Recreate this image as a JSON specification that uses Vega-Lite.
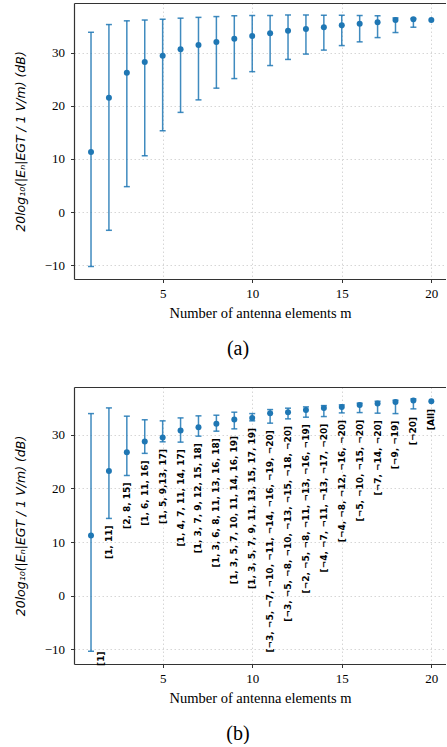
{
  "$schema": "https://vega.github.io/schema/vega-lite/v6.json",
  "padding": {"left": 14, "top": 3, "right": 0, "bottom": 0},
  "spacing": 28,
  "datasets": {
    "a": [
      {"m": 1, "v": 11.3, "lo": -10.2, "hi": 33.8},
      {"m": 2, "v": 21.5, "lo": -3.4, "hi": 35.25},
      {"m": 3, "v": 26.2, "lo": 4.8, "hi": 35.95},
      {"m": 4, "v": 28.2, "lo": 10.6, "hi": 36.1},
      {"m": 5, "v": 29.4, "lo": 15.3, "hi": 36.25},
      {"m": 6, "v": 30.6, "lo": 18.75, "hi": 36.45},
      {"m": 7, "v": 31.4, "lo": 21.1, "hi": 36.6},
      {"m": 8, "v": 31.95, "lo": 23.3, "hi": 36.75},
      {"m": 9, "v": 32.6, "lo": 25.1, "hi": 36.9},
      {"m": 10, "v": 33.1, "lo": 26.4, "hi": 36.95},
      {"m": 11, "v": 33.6, "lo": 27.55, "hi": 36.95},
      {"m": 12, "v": 34.1, "lo": 28.7, "hi": 37.05},
      {"m": 13, "v": 34.4, "lo": 29.7, "hi": 37.05},
      {"m": 14, "v": 34.75, "lo": 30.45, "hi": 37.0},
      {"m": 15, "v": 35.1, "lo": 31.3, "hi": 37.0},
      {"m": 16, "v": 35.4, "lo": 32.0, "hi": 36.95},
      {"m": 17, "v": 35.7, "lo": 32.8, "hi": 36.9},
      {"m": 18, "v": 36.1, "lo": 33.75, "hi": 36.5},
      {"m": 19, "v": 36.25, "lo": 34.75, "hi": 36.4},
      {"m": 20, "v": 36.1, "lo": null, "hi": null}
    ],
    "b": [
      {"m": 1, "v": 11.23, "lo": -10.33, "hi": 33.9, "label": "[1]", "lx": 1.56, "ly": -9.05},
      {"m": 2, "v": 23.2, "lo": 14.39, "hi": 34.96, "label": "[1, 11]", "lx": 2, "ly": 14.39},
      {"m": 3, "v": 26.73, "lo": 22.38, "hi": 33.42, "label": "[2, 8, 15]", "lx": 3, "ly": 22.38},
      {"m": 4, "v": 28.7, "lo": 26.5, "hi": 32.75, "label": "[1, 6, 11, 16]", "lx": 4, "ly": 26.5},
      {"m": 5, "v": 29.45, "lo": 28.65, "hi": 32.55, "label": "[1, 5, 9,13, 17]", "lx": 5, "ly": 28.65},
      {"m": 6, "v": 30.74, "lo": 28.59, "hi": 33.1, "label": "[1, 4, 7, 11, 14, 17]", "lx": 6, "ly": 28.59},
      {"m": 7, "v": 31.38, "lo": 29.7, "hi": 33.48, "label": "[1, 3, 7, 9, 12, 15, 18]", "lx": 7, "ly": 29.7},
      {"m": 8, "v": 31.99, "lo": 30.63, "hi": 33.6, "label": "[1, 3, 6, 8, 11, 13, 16, 18]", "lx": 8, "ly": 30.63},
      {"m": 9, "v": 32.79, "lo": 31.06, "hi": 34.16, "label": "[1, 3, 5, 7, 10, 11, 14, 16, 19]", "lx": 9, "ly": 31.06},
      {"m": 10, "v": 33.1, "lo": 32.55, "hi": 33.9, "label": "[1, 3, 5, 7, 9, 11, 13, 15, 17, 19]", "lx": 10, "ly": 32.55},
      {"m": 11, "v": 33.98, "lo": 32.12, "hi": 34.65, "label": "[¬3, ¬5, ¬7, ¬10, ¬11, ¬14, ¬16, ¬19, ¬20]", "lx": 11, "ly": 32.12},
      {"m": 12, "v": 34.16, "lo": 32.92, "hi": 34.91, "label": "[¬3, ¬5, ¬8, ¬10, ¬13, ¬15, ¬18, ¬20]", "lx": 12, "ly": 32.92},
      {"m": 13, "v": 34.59, "lo": 33.23, "hi": 35.15, "label": "[¬2, ¬5, ¬8, ¬11, ¬13, ¬16, ¬19]", "lx": 13, "ly": 33.23},
      {"m": 14, "v": 34.96, "lo": 33.35, "hi": 35.39, "label": "[¬4, ¬7, ¬11, ¬13, ¬17, ¬20]", "lx": 14, "ly": 33.35},
      {"m": 15, "v": 35.15, "lo": 34.03, "hi": 35.52, "label": "[¬4, ¬8, ¬12, ¬16, ¬20]", "lx": 15, "ly": 34.03},
      {"m": 16, "v": 35.52, "lo": 34.09, "hi": 35.84, "label": "[¬5, ¬10, ¬15, ¬20]", "lx": 16, "ly": 34.09},
      {"m": 17, "v": 35.76, "lo": 33.98, "hi": 36.2, "label": "[¬7, ¬14, ¬20]", "lx": 17, "ly": 33.98},
      {"m": 18, "v": 36.08, "lo": 33.9, "hi": 36.39, "label": "[¬9, ¬19]", "lx": 18, "ly": 33.9},
      {"m": 19, "v": 36.32, "lo": 34.78, "hi": 36.64, "label": "[¬20]", "lx": 19, "ly": 34.6},
      {"m": 20, "v": 36.2, "lo": null, "hi": null, "label": "[All]", "lx": 20, "ly": 36.1}
    ]
  },
  "vconcat": [
    {
      "width": 372,
      "height": 276,
      "data": {"name": "a"},
      "title": {"text": "(a)", "orient": "bottom", "anchor": "middle", "dx": -22, "offset": 19, "font": "Liberation Serif", "fontSize": 20, "fontWeight": "normal", "color": "#000"},
      "resolve": {"axis": {"x": "independent"}},
      "layer": [
        {
          "mark": {"type": "rule", "color": "#1f77b4", "strokeWidth": 1.5, "opacity": 0.85},
          "encoding": {
            "x": {"field": "m", "type": "quantitative", "scale": {"domain": [0.05, 20.82], "nice": false, "zero": false},
                  "axis": {"values": [5, 10, 15, 20], "title": "Number of antenna elements m", "titlePadding": 6, "grid": true}},
            "y": {"field": "lo", "type": "quantitative", "scale": {"domain": [-12.55, 39.3], "nice": false, "zero": false},
                  "axis": {"values": [-10, 0, 10, 20, 30], "title": "20log₁₀(|Eₙ|EGT / 1 V/m) (dB)", "titleFont": "DejaVu Sans", "titleFontStyle": "italic", "titleFontSize": 12.5, "labelPadding": 6, "titlePadding": 17, "grid": true}},
            "y2": {"field": "hi"}
          }
        },
        {
          "mark": {"type": "tick", "orient": "horizontal", "color": "#1f77b4", "size": 6, "thickness": 1.5, "opacity": 0.85},
          "encoding": {
            "x": {"field": "m", "type": "quantitative", "axis": {"orient": "top", "labels": false, "ticks": false, "grid": false, "title": null, "domain": true}},
            "y": {"field": "hi", "type": "quantitative"}
          }
        },
        {
          "mark": {"type": "tick", "orient": "horizontal", "color": "#1f77b4", "size": 6, "thickness": 1.5, "opacity": 0.85},
          "encoding": {
            "x": {"field": "m", "type": "quantitative", "axis": null},
            "y": {"field": "lo", "type": "quantitative"}
          }
        },
        {
          "mark": {"type": "point", "filled": true, "color": "#1f77b4", "size": 36, "opacity": 1},
          "encoding": {
            "x": {"field": "m", "type": "quantitative", "axis": null},
            "y": {"field": "v", "type": "quantitative"}
          }
        }
      ]
    },
    {
      "width": 372,
      "height": 277,
      "data": {"name": "b"},
      "title": {"text": "(b)", "orient": "bottom", "anchor": "middle", "dx": -22, "offset": 19, "font": "Liberation Serif", "fontSize": 20, "fontWeight": "normal", "color": "#000"},
      "resolve": {"axis": {"x": "independent"}},
      "layer": [
        {
          "mark": {"type": "rule", "color": "#1f77b4", "strokeWidth": 1.5, "opacity": 0.85},
          "encoding": {
            "x": {"field": "m", "type": "quantitative", "scale": {"domain": [0.05, 20.82], "nice": false, "zero": false},
                  "axis": {"values": [5, 10, 15, 20], "title": "Number of antenna elements m", "titlePadding": 6, "grid": true}},
            "y": {"field": "lo", "type": "quantitative", "scale": {"domain": [-12.7, 38.85], "nice": false, "zero": false},
                  "axis": {"values": [-10, 0, 10, 20, 30], "title": "20log₁₀(|Eₙ|EGT / 1 V/m) (dB)", "titleFont": "DejaVu Sans", "titleFontStyle": "italic", "titleFontSize": 12.5, "labelPadding": 6, "titlePadding": 17, "grid": true}},
            "y2": {"field": "hi"}
          }
        },
        {
          "mark": {"type": "tick", "orient": "horizontal", "color": "#1f77b4", "size": 6, "thickness": 1.5, "opacity": 0.85},
          "encoding": {
            "x": {"field": "m", "type": "quantitative", "axis": {"orient": "top", "labels": false, "ticks": false, "grid": false, "title": null, "domain": true}},
            "y": {"field": "hi", "type": "quantitative"}
          }
        },
        {
          "mark": {"type": "tick", "orient": "horizontal", "color": "#1f77b4", "size": 6, "thickness": 1.5, "opacity": 0.85},
          "encoding": {
            "x": {"field": "m", "type": "quantitative", "axis": null},
            "y": {"field": "lo", "type": "quantitative"}
          }
        },
        {
          "mark": {"type": "point", "filled": true, "color": "#1f77b4", "size": 36, "opacity": 1},
          "encoding": {
            "x": {"field": "m", "type": "quantitative", "axis": null},
            "y": {"field": "v", "type": "quantitative"}
          }
        },
        {
          "mark": {"type": "text", "angle": 270, "align": "right", "baseline": "middle", "dx": -7, "font": "DejaVu Sans", "fontWeight": "bold", "fontSize": 9, "color": "#000"},
          "encoding": {
            "x": {"field": "lx", "type": "quantitative", "axis": null},
            "y": {"field": "ly", "type": "quantitative"},
            "text": {"field": "label"}
          }
        }
      ]
    }
  ],
  "config": {
    "view": {"stroke": null},
    "axis": {
      "labelFont": "Liberation Serif", "labelFontSize": 13, "labelColor": "#000",
      "titleFont": "Liberation Serif", "titleFontSize": 14.5, "titleFontWeight": "normal", "titleColor": "#000",
      "tickColor": "#333", "tickSize": 3.5, "tickWidth": 1,
      "domainColor": "#333", "domainWidth": 1.2,
      "gridColor": "#cccccc", "gridDash": [1.5, 2.5], "gridWidth": 0.8,
      "labelPadding": 5
    }
  }
}
